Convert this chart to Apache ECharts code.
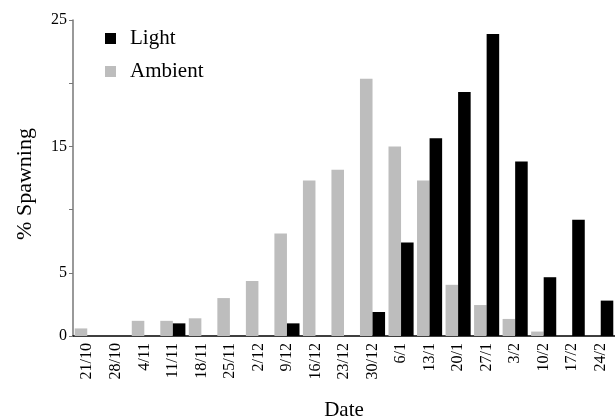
<!DOCTYPE html>
<html>
<head>
<meta charset="utf-8">
<script src="https://cdn.jsdelivr.net/npm/echarts@6/dist/echarts.min.js"></script>
<style>
  html, body { margin: 0; padding: 0; background: #fff; }
  #chart { width: 615px; height: 416px; }
</style>
</head>
<body>
<div id="chart"></div>
<script>
// sampling dates
var dates = ["21/10", "28/10", "4/11", "11/11", "18/11", "25/11", "2/12", "9/12", "16/12", "23/12",
  "30/12", "6/1", "13/1", "20/1", "27/1", "3/2", "10/2", "17/2", "24/2"];
// % spawning per date
var ambient = [0.6, 0, 1.2, 1.2, 1.4, 3.0, 4.35, 8.1, 12.3, 13.15, 20.35, 15.0, 12.3, 4.05, 2.45, 1.35, 0.35, 0, 0];
var light = [0, 0, 0, 1.0, 0, 0, 0, 1.0, 0, 0, 1.9, 7.4, 15.65, 19.3, 23.9, 13.8, 4.65, 9.2, 2.8];
var yLabels = [0, 5, 15, 25];

var font = "Liberation Serif";
var chart = echarts.init(document.getElementById("chart"));

var option = {
  animation: false,
  textStyle: { fontFamily: font },
  legend: {
    data: ["Light", "Ambient"],
    orient: "vertical",
    left: 100,
    top: 23,
    itemWidth: 11,
    itemHeight: 11,
    itemGap: 12,
    icon: "rect",
    textStyle: {
      fontFamily: font,
      fontSize: 21,
      color: "#000",
      padding: [0, 0, 0, 9]
    }
  },
  grid: {
    left: 73,
    right: 0,
    top: 20,
    bottom: 80,
    containLabel: false,
    outerBoundsMode: "none"
  },
  xAxis: {
    type: "category",
    data: dates,
    name: "Date",
    nameLocation: "middle",
    nameGap: 64,
    nameTextStyle: { fontFamily: font, fontSize: 21, color: "#000" },
    axisLine: { lineStyle: { color: "#000", width: 1.5 } },
    axisTick: { alignWithLabel: true, length: 5, lineStyle: { color: "#000" } },
    axisLabel: {
      rotate: 90,
      interval: 0,
      margin: 7,
      fontFamily: font,
      fontSize: 16,
      color: "#000"
    }
  },
  yAxis: {
    type: "value",
    min: 0,
    max: 25,
    interval: 5,
    name: "% Spawning",
    nameLocation: "middle",
    nameGap: 37,
    nameTextStyle: { fontFamily: font, fontSize: 22, color: "#000", padding: [0, 12, 0, 0] },
    axisLine: { show: true, lineStyle: { color: "#777", width: 1.5 } },
    axisTick: { show: true, length: 4, lineStyle: { color: "#777" } },
    splitLine: { show: false },
    axisLabel: {
      margin: 6,
      fontFamily: font,
      fontSize: 16,
      color: "#000",
      formatter: function (v) {
        return yLabels.indexOf(v) >= 0 ? v : "";
      }
    }
  },
  series: [
    {
      name: "Ambient",
      type: "bar",
      data: ambient,
      barGap: "0%",
      barCategoryGap: "12%",
      itemStyle: { color: "#bdbdbd" }
    },
    {
      name: "Light",
      type: "bar",
      data: light,
      barGap: "0%",
      barCategoryGap: "12%",
      itemStyle: { color: "#000" }
    }
  ]
};

chart.setOption(option);
</script>
</body>
</html>
